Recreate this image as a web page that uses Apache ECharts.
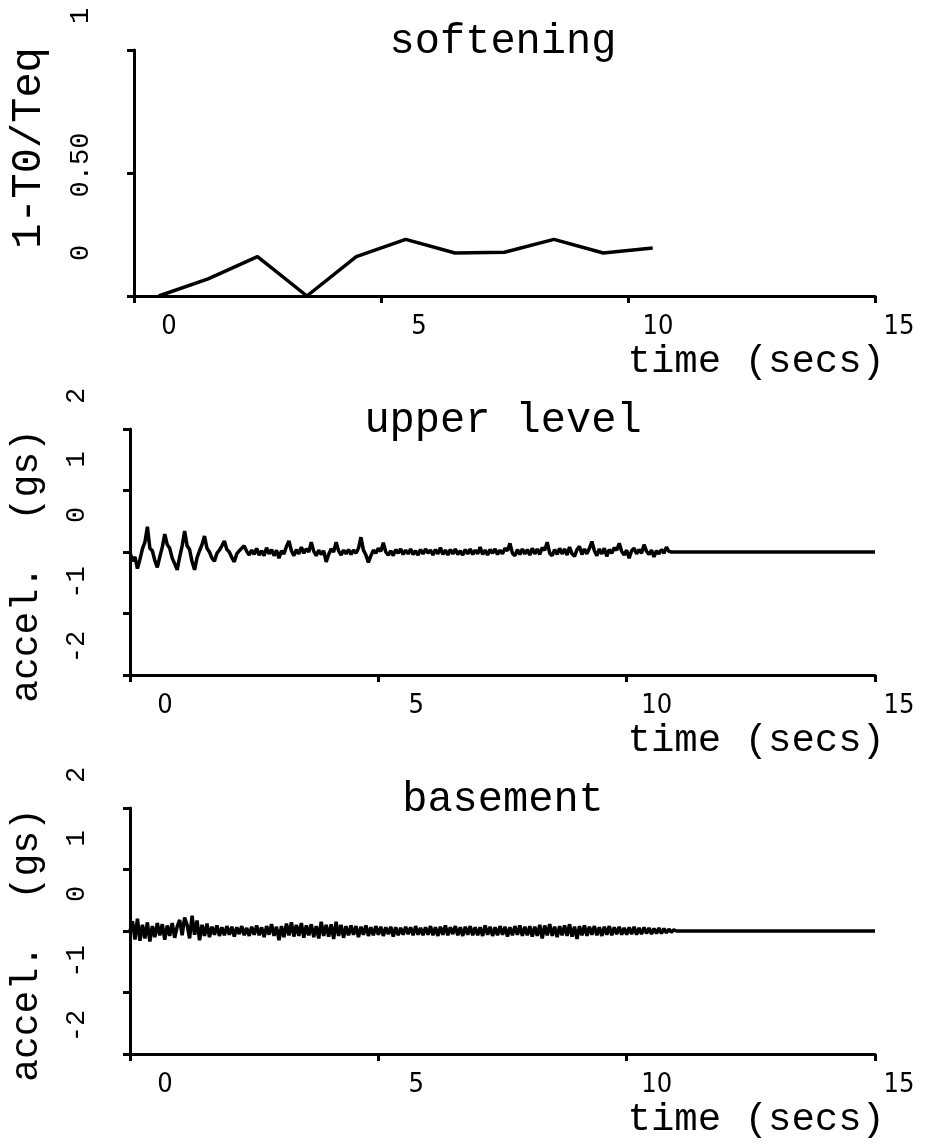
<!DOCTYPE html>
<html><head><meta charset="utf-8">
<script src="https://cdn.jsdelivr.net/npm/echarts@6/dist/echarts.min.js"></script>
<style>html,body{margin:0;padding:0;background:#fff}#c{width:929px;height:1145px}</style>
</head><body><div id="c"></div>
<script>
// ---- data ----
const panelTitles = ['softening', 'upper level', 'basement'];
const xAxisName = 'time (secs)';
const softAxisName = '1-T0/Teq';
const accAxisName = 'accel.  (gs)';
const xTickValues = [0, 5, 10, 15];
const xTickLabels = ['0', '5', '10', '15'];
const softTickValues = [0, 0.5, 1];
const softTickLabels = ['0', '0.50', '1'];
const accTickValues = [-2, -1, 0, 1, 2];
const accTickLabels = ['-2', '-1', '0', '1', '2'];

const softTime = [0.5, 1.5, 2.5, 3.5, 4.5, 5.5, 6.5, 7.5, 8.5, 9.5, 10.5];
const softValue = [0.0, 0.07, 0.16, 0.0, 0.16, 0.23, 0.175, 0.178, 0.23, 0.175, 0.195];

const sampleStep = 0.05; // seconds between samples
const upperValues = [
  0.00,-0.15,-0.08,-0.27,-0.12,0.05,0.16,0.41,0.06,0.02,-0.14,-0.25,-0.08,0.08,0.29,0.12,0.06,-0.10,-0.19,-0.29,
  -0.08,0.10,0.34,0.10,0.04,-0.16,-0.29,-0.09,0.02,0.12,0.26,0.06,0.00,-0.10,-0.15,-0.02,0.03,0.10,0.18,0.04,
  0.00,-0.09,-0.16,-0.03,0.02,0.06,0.10,0.01,-0.05,0.03,-0.04,0.06,-0.05,0.02,-0.06,0.07,-0.03,0.04,-0.06,0.03,
  -0.10,0.02,-0.03,0.09,0.18,0.02,-0.06,0.04,-0.03,0.08,-0.02,0.05,0.00,0.16,0.01,-0.06,0.03,-0.04,0.02,-0.16,
  -0.04,0.05,0.00,0.16,0.02,-0.05,0.03,-0.03,0.04,-0.04,0.03,-0.02,0.06,0.24,0.03,-0.05,-0.17,-0.06,0.03,-0.02,
  0.06,0.01,0.15,0.00,-0.05,0.02,-0.06,0.04,-0.02,0.05,-0.04,0.03,-0.03,0.05,-0.04,0.02,-0.05,0.04,-0.03,0.05,
  -0.02,0.03,-0.05,0.04,-0.03,0.07,-0.04,0.03,-0.05,0.04,-0.03,0.05,-0.04,0.02,-0.05,0.04,-0.03,0.05,-0.04,0.03,
  -0.03,0.08,-0.04,0.03,-0.05,0.04,-0.02,0.05,-0.04,0.03,-0.03,0.06,0.02,0.14,-0.02,-0.06,0.04,-0.04,0.05,-0.03,
  0.04,-0.05,0.06,-0.03,0.05,-0.04,0.07,0.03,0.16,-0.02,-0.06,0.04,-0.04,0.06,-0.03,0.05,-0.05,0.08,-0.03,-0.07,
  0.04,0.09,-0.04,0.05,-0.03,0.06,0.17,0.02,-0.06,0.05,-0.03,0.06,-0.07,0.04,-0.02,0.07,0.03,0.14,0.01,-0.05,
  0.03,-0.10,0.02,0.06,-0.03,0.04,-0.02,0.12,0.01,-0.04,0.03,-0.08,0.02,-0.03,0.04,-0.02,0.08,0.01,0.00
];
const basementValues = [
  0.00,0.16,-0.14,0.20,-0.16,0.10,-0.12,0.14,-0.17,0.08,-0.10,0.13,-0.07,0.11,-0.14,0.09,-0.08,0.13,-0.11,0.07,
  0.18,-0.07,0.22,0.10,-0.12,0.25,-0.06,0.17,-0.15,0.10,-0.08,0.12,-0.10,0.07,-0.06,0.09,-0.08,0.06,-0.07,0.08,
  -0.06,0.07,-0.09,0.06,-0.05,0.08,-0.07,0.05,-0.08,0.07,-0.06,0.09,-0.07,0.06,-0.10,0.08,-0.06,0.11,-0.08,0.07,
  -0.15,0.08,-0.10,0.12,-0.07,0.14,-0.09,0.10,-0.08,0.13,-0.11,0.09,-0.07,0.11,-0.10,0.08,-0.12,0.15,-0.08,0.10,
  -0.09,0.11,-0.13,0.15,-0.08,0.10,-0.11,0.08,-0.07,0.09,-0.06,0.08,-0.10,0.07,-0.06,0.09,-0.08,0.06,-0.07,0.08,
  -0.06,0.07,-0.08,0.06,-0.05,0.07,-0.09,0.06,-0.07,0.05,-0.06,0.07,-0.05,0.06,-0.07,0.08,-0.06,0.05,-0.07,0.06,
  -0.06,0.08,-0.07,0.06,-0.08,0.07,-0.06,0.09,-0.07,0.06,-0.05,0.08,-0.07,0.06,-0.08,0.07,-0.06,0.08,-0.07,0.06,
  -0.07,0.06,-0.08,0.09,-0.06,0.07,-0.08,0.06,-0.07,0.08,-0.06,0.07,-0.09,0.06,-0.07,0.08,-0.06,0.09,-0.08,0.07,
  -0.07,0.08,-0.09,0.07,-0.08,0.10,-0.12,0.09,-0.07,0.11,-0.08,0.07,-0.10,0.08,-0.07,0.09,-0.08,0.11,-0.09,0.07,
  -0.13,0.08,-0.07,0.09,-0.08,0.07,-0.06,0.08,-0.07,0.06,-0.08,0.07,-0.06,0.08,-0.07,0.06,-0.05,0.07,-0.06,0.05,
  -0.06,0.06,-0.05,0.07,-0.06,0.05,-0.05,0.06,-0.04,0.05,-0.05,0.04,-0.04,0.05,-0.04,0.04,-0.03,0.03,-0.02,0.02,0.00,0.00
];
const recordEndTime = 15;
const recordEndValue = 0;

// ---- build ----
function sampled(values) {
  const pts = values.map((v, i) => [+(i * sampleStep).toFixed(2), v]);
  pts.push([recordEndTime, recordEndValue]);
  return pts;
}
const softData = softTime.map((t, i) => [t, softValue[i]]);

const MONO = '"Liberation Mono","DejaVu Sans Mono",monospace';
const NARROW = '"Liberation Sans Narrow","DejaVu Sans Condensed","Liberation Sans",sans-serif';
const grids = [
  { left: 122, top: 50, width: 753, height: 246 },
  { left: 122, top: 429, width: 753, height: 246 },
  { left: 122, top: 808, width: 753, height: 246 }
];
const AX = { color: '#000', width: 3 };

const xShift = [70, 76, 60, 48];
const xRich = {};
xShift.forEach((p, i) => { xRich['k' + i] = { fontFamily: NARROW, fontSize: 27, color: '#000', padding: [0, 0, 0, p] }; });

function xAxisFor(gi) {
  return {
    type: 'value', gridIndex: gi, min: 0, max: 15, interval: 5,
    axisLine: { show: true, onZero: false, lineStyle: AX },
    axisTick: { show: true, inside: false, length: 7, lineStyle: AX },
    splitLine: { show: false },
    axisLabel: {
      margin: 17,
      formatter: v => { const i = xTickValues.indexOf(v); return i < 0 ? '' : '{k' + i + '|' + xTickLabels[i] + '}'; },
      rich: xRich
    },
    name: xAxisName, nameLocation: 'end', nameGap: 10,
    nameTextStyle: { fontFamily: MONO, fontSize: 39, color: '#000', align: 'right', verticalAlign: 'top', padding: [46, 0, 0, 0] }
  };
}

const softShift = [86, 16, 68];
const softRich = {};
softShift.forEach((p, i) => { softRich['s' + i] = { fontFamily: MONO, fontSize: 27, color: '#000', padding: [0, 0, 0, p] }; });
const accRich = {};
[56, 62, 74, 62, 66].forEach((p, i) => { accRich['a' + i] = { fontFamily: MONO, fontSize: 27, color: '#000', padding: [0, 0, 0, p] }; });

const yAxes = [
  {
    type: 'value', gridIndex: 0, min: 0, max: 1, interval: 0.5,
    axisLine: { show: true, onZero: false, lineStyle: AX },
    axisTick: { show: true, length: 7, lineStyle: AX },
    splitLine: { show: false },
    axisLabel: {
      rotate: 90, margin: 40,
      formatter: v => { const i = softTickValues.findIndex(x => Math.abs(x - v) < 1e-9); return i < 0 ? '' : '{s' + i + '|' + softTickLabels[i] + '}'; },
      rich: softRich
    },
    name: softAxisName, nameLocation: 'middle', nameRotate: 90, nameGap: 84,
    nameTextStyle: { fontFamily: MONO, fontSize: 42, color: '#000', padding: [0, 0, 0, 50] }
  }
];
[1, 2].forEach(gi => yAxes.push({
  type: 'value', gridIndex: gi, min: -2, max: 2, interval: 1,
  axisLine: { show: true, onZero: false, lineStyle: AX },
  axisTick: { show: true, length: 7, lineStyle: AX },
  splitLine: { show: false },
  axisLabel: {
    rotate: 90, margin: 40,
    formatter: v => { const i = accTickValues.indexOf(v); return i < 0 ? '' : '{a' + i + '|' + accTickLabels[i] + '}'; },
    rich: accRich
  },
  name: accAxisName, nameLocation: 'middle', nameRotate: 90, nameGap: 84,
  nameTextStyle: { fontFamily: MONO, fontSize: 38, color: '#000', padding: [0, 28, 0, 0] }
}));

const titleTops = [16, 395, 774];
const option = {
  animation: false,
  backgroundColor: '#fff',
  title: panelTitles.map((t, i) => ({
    text: t, left: 498, top: titleTops[i], textAlign: 'center',
    textStyle: { fontFamily: MONO, fontSize: 42, fontWeight: 'normal', color: '#000' }
  })),
  grid: grids,
  xAxis: [0, 1, 2].map(xAxisFor),
  yAxis: yAxes,
  series: [
    { type: 'line', xAxisIndex: 0, yAxisIndex: 0, data: softData, showSymbol: false, lineStyle: { color: '#000', width: 3.5 } },
    { type: 'line', xAxisIndex: 1, yAxisIndex: 1, data: sampled(upperValues), showSymbol: false, lineStyle: { color: '#000', width: 3.5 } },
    { type: 'line', xAxisIndex: 2, yAxisIndex: 2, data: sampled(basementValues), showSymbol: false, lineStyle: { color: '#000', width: 3.5 } }
  ]
};
const chart = echarts.init(document.getElementById('c'), null, { renderer: 'canvas' });
chart.setOption(option);
</script>
</body></html>
